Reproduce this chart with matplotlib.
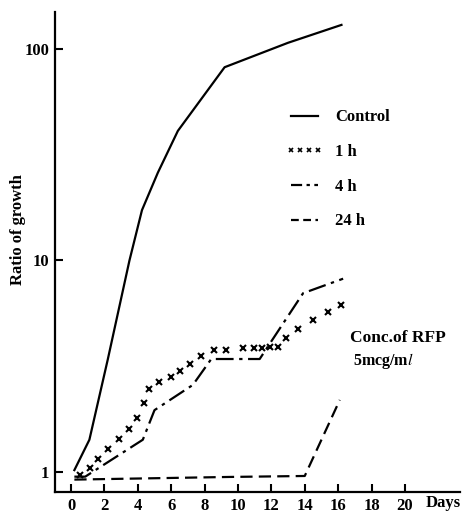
import matplotlib
matplotlib.use('Agg')
import matplotlib.pyplot as plt
from matplotlib.lines import Line2D

plt.rcParams['font.family'] = ['Liberation Serif', 'DejaVu Serif']
plt.rcParams['mathtext.fontset'] = 'stix'

# data (days, ratio of growth)
control_days = [0.2, 1.1, 2.2, 3.5, 4.25, 5.2, 6.4, 9.2, 13.0, 16.2]
control_vals = [1.02, 1.42, 3.4, 10.0, 17.3, 26.0, 41.0, 82.0, 107.0, 130.0]

h1_days = [0.55, 1.15, 1.6, 2.2, 2.9, 3.5, 3.95, 4.35, 4.7, 5.25, 6.0, 6.5, 7.1, 7.8,
           8.55, 9.3, 10.3, 10.95, 11.45, 11.9, 12.4, 12.9, 13.6, 14.5, 15.4, 16.2]
h1_vals = [0.97, 1.04, 1.15, 1.28, 1.43, 1.6, 1.8, 2.12, 2.47, 2.66, 2.81, 3.0, 3.24, 3.53,
           3.77, 3.77, 3.86, 3.86, 3.86, 3.9, 3.9, 4.3, 4.74, 5.24, 5.7, 6.15]

h4_days = [0.2, 0.85, 4.3, 5.0, 7.3, 8.4, 11.3, 13.9, 16.3]
h4_vals = [0.95, 0.95, 1.42, 1.96, 2.58, 3.42, 3.42, 7.0, 8.2]

h24_days = [0.2, 9.5, 14.0, 16.1]
h24_vals = [0.92, 0.947, 0.957, 2.19]

xticks = [0, 2, 4, 6, 8, 10, 12, 14, 16, 18, 20]
yticks = [1, 10, 100]
ytick_labels = ['1', '10', '100']

fig = plt.figure(figsize=(4.63, 5.15), dpi=100)
ax = fig.add_axes([0.1188, 0.0447, 0.8747, 0.932])

lw = 1.6
ax.plot(control_days, control_vals, color='black', lw=lw, label='Control')
ax.plot(h1_days, h1_vals, ls='none', marker='x', ms=4.8, mew=1.5, color='black', label='1 h')
ax.plot(h4_days, h4_vals, color='black', lw=lw, dashes=(8, 2.5, 1.5, 2.5), label='4 h')
ax.plot(h24_days, h24_vals, color='black', lw=lw, dashes=(5.5, 2.8), label='24 h')

ax.set_yscale('log')
ax.set_xlim(-0.96, 23.3)
ax.set_ylim(0.804, 149.6)
ax.set_yticks(yticks)
ax.set_yticklabels(ytick_labels)
ax.minorticks_off()
ax.set_xticks(xticks)
ax.tick_params(axis='both', direction='in', length=6, width=1.5, labelsize=12, pad=4)
for lab in ax.get_xticklabels() + ax.get_yticklabels():
    lab.set_fontweight('bold')

for s in ['top', 'right']:
    ax.spines[s].set_visible(False)
for s in ['left', 'bottom']:
    ax.spines[s].set_linewidth(1.6)

fig.text(18 / 463, 1 - 230 / 515, 'Ratio of growth', rotation=90, fontsize=12,
         fontweight='bold', ha='center', va='center')
fig.text(426 / 463, 1 - 503 / 515, 'Days', fontsize=12, fontweight='bold',
         ha='left', va='center')

ax.text(0.728, 0.3125, 'Conc.of RFP', transform=ax.transAxes, fontsize=12.5, fontweight='bold')
ax.text(0.735, 0.265, '5mcg/m$\\mathit{l}$', transform=ax.transAxes, fontsize=11.5,
        fontweight='bold')

handles = [
    Line2D([], [], color='black', lw=lw),
    Line2D([], [], ls='none', marker='x', ms=3.5, mew=1.2, color='black'),
    Line2D([], [], color='black', lw=lw, dashes=(5, 2, 1.5, 2)),
    Line2D([], [], color='black', lw=lw, dashes=(3.5, 2)),
]
ax.legend(handles, ['Control', '1 h', '4 h', '24 h'], loc='upper left',
          bbox_to_anchor=(0.57, 0.797), frameon=False, numpoints=4,
          handlelength=2.2, handletextpad=0.75, labelspacing=1.12,
          borderpad=0, borderaxespad=0, prop={'size': 12, 'weight': 'bold'})

fig.savefig('out.png', dpi=100)
